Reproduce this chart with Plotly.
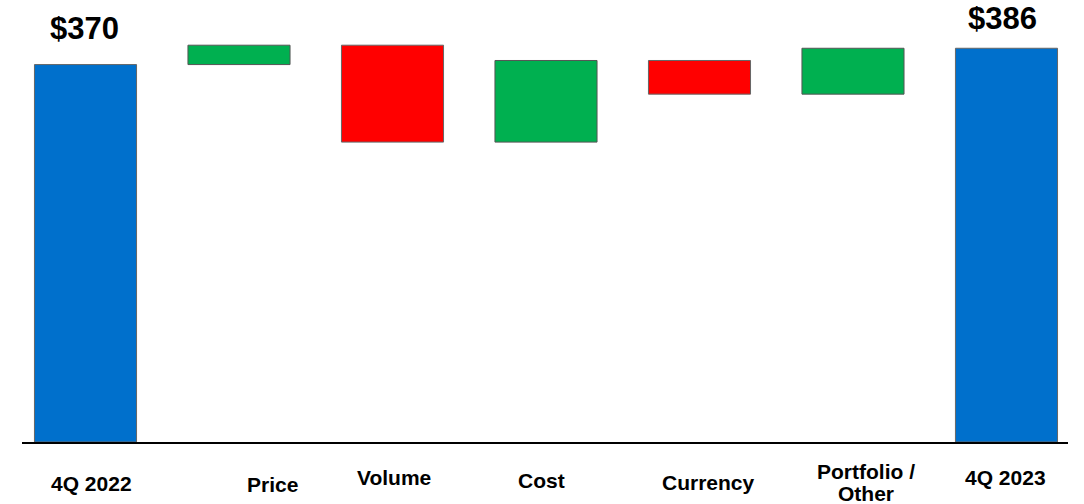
import plotly.graph_objects as go

categories = ["4Q 2022", "Price", "Volume", "Cost", "Currency", "Portfolio /<br>Other", "4Q 2023"]
measures = ["absolute", "relative", "relative", "relative", "relative", "relative", "total"]
values = [370, 19, -95, 80, -33, 45, 0]
total_labels = ["$370", "", "", "", "", "", "$386"]
total_values = [370, None, None, None, None, None, 386]

BLUE = "#0070CC"
GREEN = "#00B050"
RED = "#FF0000"
FONT = "Liberation Sans, Arial, sans-serif"

fig = go.Figure()
fig.add_trace(go.Waterfall(
    x=list(range(len(categories))),
    measure=measures,
    y=values,
    width=0.665,
    connector=dict(visible=False),
    increasing=dict(marker=dict(color=GREEN, line=dict(color="#555555", width=1))),
    decreasing=dict(marker=dict(color=RED, line=dict(color="#666666", width=1))),
    totals=dict(marker=dict(color=BLUE, line=dict(color="#666666", width=1))),
    hoverinfo="skip",
    showlegend=False,
))

# category labels below the axis (multi-line labels placed line by line)
label_xshift = [5.5, 33.5, 1, -4.5, 9, 13, -0.5]
label_yshift = [-41, -42, -35, -38, -40, -40, -35]
LINE_STEP = 22
for i, cat in enumerate(categories):
    lines = cat.split("<br>")
    n = len(lines)
    for k, line in enumerate(lines):
        offset = (k - (n - 1) / 2) * LINE_STEP
        fig.add_annotation(
            x=i, y=0, xref="x", yref="y", text="<b>%s</b>" % line,
            showarrow=False, xanchor="center", yanchor="middle",
            xshift=label_xshift[i], yshift=label_yshift[i] - offset,
            font=dict(family=FONT, size=21, color="#000000"),
        )

# total value labels
val_xshift = [-1.5, 0, 0, 0, 0, 0, -3.5]
val_yshift = [17, 0, 0, 0, 0, 0, 10]
for i, (t, v) in enumerate(zip(total_labels, total_values)):
    if not t:
        continue
    fig.add_annotation(
        x=i, y=v, xref="x", yref="y", text="<b>%s</b>" % t,
        showarrow=False, xanchor="center", yanchor="bottom",
        xshift=val_xshift[i], yshift=val_yshift[i],
        font=dict(family=FONT, size=31, color="#000000"),
    )

fig.update_layout(
    width=1084, height=504,
    margin=dict(l=22, r=16, t=0, b=62),
    paper_bgcolor="white", plot_bgcolor="white",
    xaxis=dict(range=[-0.4137, 6.4007], showticklabels=False, showgrid=False,
               zeroline=False, showline=True, linecolor="#000000", linewidth=1.5,
               ticks="", fixedrange=True),
    yaxis=dict(range=[0, 433.3], visible=False, showgrid=False, zeroline=False,
               fixedrange=True),
)

fig.write_html("out.html", config=dict(displayModeBar=False))
